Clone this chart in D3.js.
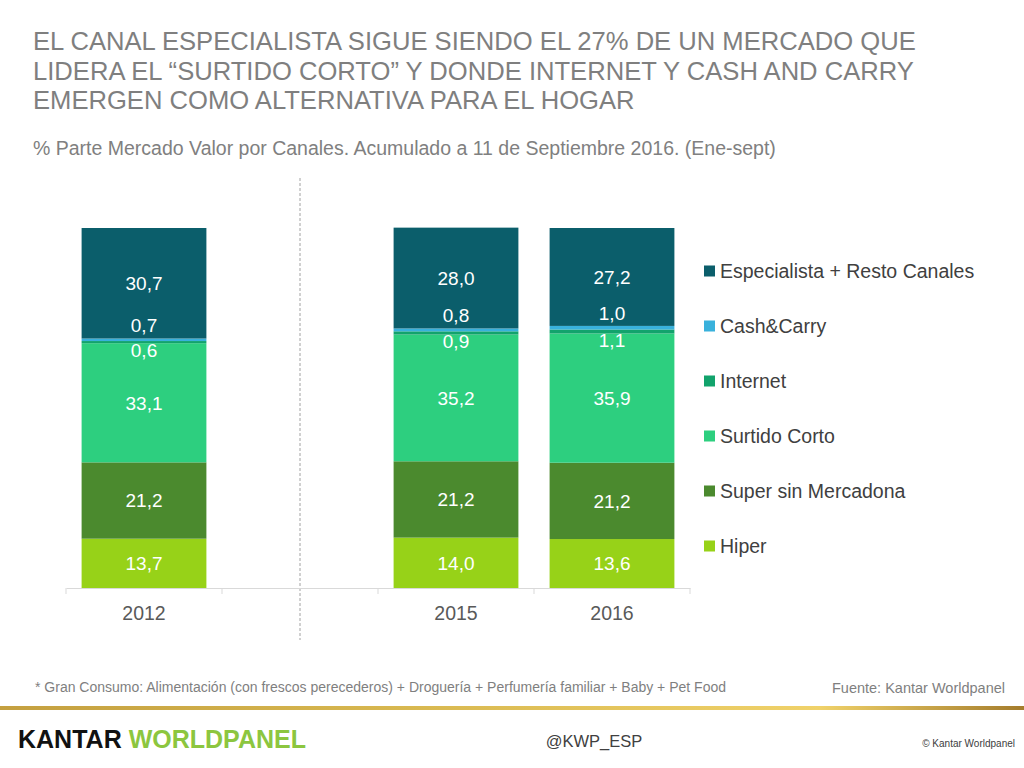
<!DOCTYPE html>
<html>
<head>
<meta charset="utf-8">
<script src="https://cdn.jsdelivr.net/npm/d3@7"></script>
<style>
  body { margin: 0; background: #fff; }
  svg { display: block; font-family: "Liberation Sans", Arial, sans-serif; }
</style>
</head>
<body>
<div id="chart"></div>
<script>
// years shown, plus an empty slot used as the gap between 2012 and 2015
const years = ["2012", "2015", "2016"];
const slots = ["2012", "gap", "2015", "2016"];

const seriesNames = ["Hiper", "Super sin Mercadona", "Surtido Corto", "Internet", "Cash&Carry", "Especialista + Resto Canales"];
const hiper = [13.7, 14.0, 13.6];
const superSinMercadona = [21.2, 21.2, 21.2];
const surtidoCorto = [33.1, 35.2, 35.9];
const internet = [0.6, 0.9, 1.1];
const cashCarry = [0.7, 0.8, 1.0];
const especialista = [30.7, 28.0, 27.2];

const seriesColors = ["#97d218", "#4b8a2e", "#2dcf7f", "#12a36c", "#39b1dc", "#0b5e6b"];

const titleLines = [
  "EL CANAL ESPECIALISTA SIGUE SIENDO EL 27% DE UN MERCADO QUE",
  "LIDERA EL \u201cSURTIDO CORTO\u201d Y DONDE INTERNET Y CASH AND CARRY",
  "EMERGEN COMO ALTERNATIVA PARA EL HOGAR"
];
const subtitle = "% Parte Mercado Valor por Canales. Acumulado a 11 de Septiembre 2016. (Ene-sept)";
const footnote = "* Gran Consumo: Alimentaci\u00f3n (con frescos perecederos) + Droguer\u00eda + Perfumer\u00eda familiar + Baby + Pet Food";

const valuesBySeries = [hiper, superSinMercadona, surtidoCorto, internet, cashCarry, especialista];
const rows = years.map((yr, i) => {
  const r = { year: yr };
  seriesNames.forEach((s, k) => { r[s] = valuesBySeries[k][i]; });
  return r;
});

const W = 1024, H = 768;
const svg = d3.select("#chart").append("svg").attr("width", W).attr("height", H);

// Title
svg.append("g").selectAll("text")
  .data(titleLines)
  .enter().append("text")
  .attr("x", 33)
  .attr("y", (d, i) => 50 + i * 29.5)
  .style("font-size", "25.6px")
  .style("fill", "#7f7f7f")
  .text(d => d);

svg.append("text")
  .attr("x", 33).attr("y", 155)
  .style("font-size", "19.5px")
  .style("fill", "#808080")
  .text(subtitle);

// Scales
const x = d3.scaleBand().domain(slots).range([66, 690]).paddingInner(0.2).paddingOuter(0.1);
const y = d3.scaleLinear().domain([0, 100]).range([588, 228]);
const color = d3.scaleOrdinal().domain(seriesNames).range(seriesColors);

const stacked = d3.stack().keys(seriesNames)(rows);

// Separator (dashed) in the middle of the gap slot
const sepX = x("gap") + x.bandwidth() / 2;
svg.append("line")
  .attr("x1", sepX).attr("x2", sepX)
  .attr("y1", 178).attr("y2", 640)
  .style("stroke", "#8c8c8c")
  .style("stroke-width", 0.8)
  .style("stroke-dasharray", "3,2");

// Bars
svg.append("g").selectAll("g.layer")
  .data(stacked)
  .enter().append("g")
  .attr("class", "layer")
  .attr("fill", d => color(d.key))
  .selectAll("rect")
  .data(d => d)
  .enter().append("rect")
  .attr("x", d => x(d.data.year))
  .attr("y", d => y(d[1]))
  .attr("width", x.bandwidth())
  .attr("height", d => y(d[0]) - y(d[1]));

// Axis line and boundary ticks (Excel style)
const axisG = svg.append("g").attr("transform", "translate(0,588)");
axisG.call(d3.axisBottom(x).tickSize(0).tickPadding(18).tickFormat(d => d === "gap" ? "" : d));
axisG.select(".domain").style("stroke", "#d9d9d9");
axisG.selectAll("text")
  .style("font-family", "\"Liberation Sans\", Arial, sans-serif")
  .style("font-size", "19.5px")
  .style("fill", "#595959");

const step = x.step();
const bounds = slots.map(s => x(s) - step * x.paddingOuter()).concat([x.range()[1]]);
axisG.selectAll("line.bound")
  .data(bounds)
  .enter().append("line")
  .attr("class", "bound")
  .attr("x1", d => d).attr("x2", d => d)
  .attr("y1", 0).attr("y2", 6)
  .style("stroke", "#d9d9d9");

// Value labels
const labels = [];
stacked.forEach(layer => {
  layer.forEach(d => {
    const v = d[1] - d[0];
    let cy = (y(d[0]) + y(d[1])) / 2;
    if (layer.key === "Cash&Carry") cy = y(d[1]) - 13;
    if (layer.key === "Internet") cy = y(d[0]) + 7;
    labels.push({ x: x(d.data.year) + x.bandwidth() / 2, y: cy, v });
  });
});
svg.append("g").selectAll("text")
  .data(labels)
  .enter().append("text")
  .attr("x", d => d.x)
  .attr("y", d => d.y)
  .attr("dy", "0.36em")
  .attr("text-anchor", "middle")
  .style("font-size", "19px")
  .style("fill", "#fff")
  .text(d => d3.format(".1f")(d.v).replace(".", ","));

// Legend (top item = top of stack)
const legendItems = seriesNames.slice().reverse();
const legend = svg.append("g").selectAll("g")
  .data(legendItems)
  .enter().append("g")
  .attr("transform", (d, i) => `translate(704,${271 + i * 55})`);
legend.append("rect")
  .attr("x", 0).attr("y", -5.5)
  .attr("width", 11).attr("height", 11)
  .attr("fill", d => color(d));
legend.append("text")
  .attr("x", 16).attr("dy", "0.36em")
  .style("font-size", "19.5px")
  .style("fill", "#404040")
  .text(d => d);

// Footer
svg.append("text")
  .attr("x", 35).attr("y", 692)
  .style("font-size", "14px")
  .style("fill", "#7f7f7f")
  .text(footnote);
svg.append("text")
  .attr("x", 1005).attr("y", 693)
  .attr("text-anchor", "end")
  .style("font-size", "14.5px")
  .style("fill", "#7f7f7f")
  .text("Fuente: Kantar Worldpanel");

const defs = svg.append("defs");
const grad = defs.append("linearGradient").attr("id", "gold");
[["0%", "#c4a040"], ["40%", "#d8b850"], ["80%", "#f0d26a"], ["100%", "#a47c2c"]]
  .forEach(s => grad.append("stop").attr("offset", s[0]).attr("stop-color", s[1]));
svg.append("rect")
  .attr("x", 0).attr("y", 706)
  .attr("width", W).attr("height", 4)
  .attr("fill", "url(#gold)");

const logo = svg.append("text")
  .attr("x", 18).attr("y", 748)
  .style("font-size", "25px")
  .style("font-weight", "bold");
logo.append("tspan").style("fill", "#111").text("KANTAR ");
logo.append("tspan").style("fill", "#8cc63f").text("WORLDPANEL");

svg.append("text")
  .attr("x", 594).attr("y", 747)
  .attr("text-anchor", "middle")
  .style("font-size", "16.5px")
  .style("fill", "#404040")
  .text("@KWP_ESP");

svg.append("text")
  .attr("x", 1015).attr("y", 747)
  .attr("text-anchor", "end")
  .style("font-size", "10px")
  .style("fill", "#404040")
  .text("\u00a9 Kantar Worldpanel");
</script>
</body>
</html>
